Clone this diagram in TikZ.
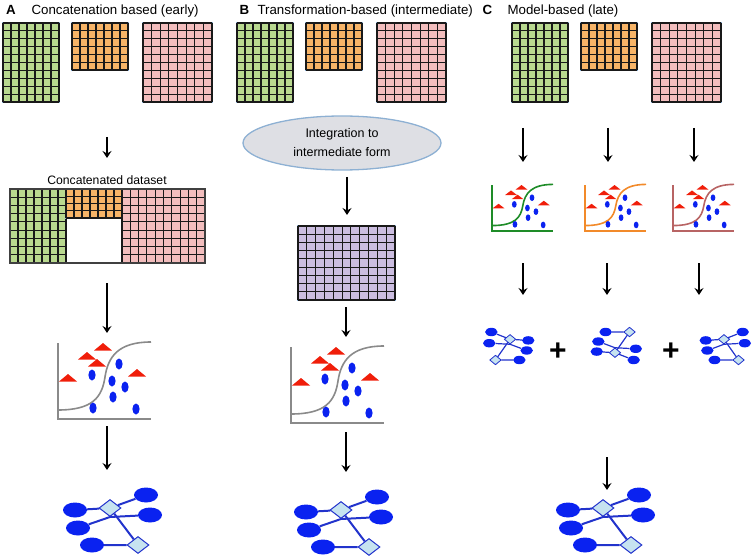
\documentclass[tikz,border=0pt]{standalone}
\usepackage{fontspec}
\setmainfont{Liberation Sans}
\usepackage{tikz}
\usetikzlibrary{shapes.geometric,arrows.meta}

\definecolor{gridgreen}{HTML}{B9D98F}
\definecolor{gridorange}{HTML}{F7B467}
\definecolor{gridpink}{HTML}{F2BDBD}
\definecolor{gridpurple}{HTML}{CBBDE0}
\definecolor{framelight}{HTML}{8FB4DC}
\definecolor{netblue}{HTML}{0A22F0}
\definecolor{edgeblue}{HTML}{2233CC}
\definecolor{hubfill}{HTML}{C6E3F0}
\definecolor{dotred}{HTML}{F01E0A}
\definecolor{curvegray}{HTML}{8A8A8A}
\definecolor{curvegreen}{HTML}{1E8C28}
\definecolor{curveorange}{HTML}{F28A2A}
\definecolor{curvebrown}{HTML}{B86464}
\definecolor{ovalfill}{HTML}{DEDFE4}
\definecolor{ovalline}{HTML}{8DB0D3}

% one block of data: left, top, right, bottom, columns, rows, fill
\newcommand{\datagrid}[7]{%
  \draw[gridframe, fill=#7] (#1,-#2) rectangle (#3,-#4);
  \foreach \k in {0,...,#5}
    \draw[gridline] ({#1+(#3-#1)*\k/#5},-#2) -- ({#1+(#3-#1)*\k/#5},-#4);
  \foreach \k in {0,...,#6}
    \draw[gridline] (#1,{-#2-(#4-#2)*\k/#6}) -- (#3,{-#2-(#4-#2)*\k/#6});
}

\tikzset{
  >={Stealth[length=7pt,width=9pt,inset=2.5pt]},
  flow/.style={->, line width=1.6pt},
  gridline/.style={line width=1.1pt, black!90},
  gridframe/.style={draw=framelight, line width=2.6pt},
  plotline/.style={draw=#1, line width=1.6pt},
  trired/.style={fill=dotred},
  dotblue/.style={fill=netblue},
  leaf/.style={ellipse, fill=netblue, minimum width=24pt, minimum height=15pt, inner sep=0pt},
  hub/.style={diamond, draw=edgeblue, line width=1pt, fill=hubfill, minimum width=22pt, minimum height=17pt, inner sep=0pt},
  netedge/.style={draw=edgeblue, line width=2pt},
  title/.style={font=\fontsize{13.3}{16}\selectfont, anchor=base west},
  oval/.style={ellipse, draw=ovalline, line width=1.3pt, fill=ovalfill, minimum width=198pt, minimum height=54pt, inner sep=0pt, align=center, font=\fontsize{12.5}{19}\selectfont},
  pics/scatter/.style={code={
    \draw[plotline=#1] (0,76) -- (0,0) -- (93,0);
    \draw[plotline=#1] (0,9) .. controls (35,9) and (44,22) .. (47,42) .. controls (50,62) and (60,77) .. (93,77);
    \foreach \tx/\ty in {45/72,29/63,39/56,10/41,79/46}
      \fill[trired] (\tx-9,\ty-3.5) -- (\tx+9,\ty-3.5) -- (\tx,\ty+4) -- cycle;
    \foreach \dx/\dy in {61/55,34/44,54/38,67/32,55/22,35/11,78/10}
      \fill[dotblue] (\dx,\dy) ellipse (3.6 and 5.5);
  }},
  pics/net/.style={code={
    \node[hub] (-d1) at (-2,12) {};
    \node[hub] (-d2) at (26,-25) {};
    \node[leaf] (-e1) at (-37,10) {};
    \node[leaf] (-e2) at (34,25) {};
    \node[leaf] (-e3) at (38,5) {};
    \node[leaf] (-e4) at (-34,-8) {};
    \node[leaf] (-e5) at (-20,-25) {};
    \draw[netedge] (-e1) -- (-d1) -- (-e2);
    \draw[netedge] (-e4) -- (-d1.south) -- (-e3);
    \draw[netedge] (-d1) -- (-d2) -- (-e5);
  }},
  smallnet/.style={transform shape, netedge/.append style={line width=1.2pt}, hub/.append style={line width=0.8pt}},
}

\begin{document}
\begin{tikzpicture}[x=1pt,y=1pt]
  \useasboundingbox (0,0) rectangle (753,-559);

  % headings
  \node[title] (markA) at (2.5,-14.5) {\bfseries A};
  \node[title] (headA) at (28,-14.5) {Concatenation based (early)};
  \node[title] (markB) at (236,-14.5) {\bfseries B};
  \node[title] (headB) at (254,-14.5) {Transformation-based (intermediate)};
  \node[title] (markC) at (479,-14.5) {\bfseries C};
  \node[title] (headC) at (504,-14.5) {Model-based (late)};

  % the three input blocks in each column
  \foreach \s in {0,234,509}{
    \begin{scope}[xshift=\s]
      \datagrid{3}{23}{59}{102}{7}{10}{gridgreen}
      \datagrid{72}{23}{128}{70}{7}{6}{gridorange}
      \datagrid{143}{23}{212}{102}{8}{10}{gridpink}
    \end{scope}
  }

  % A: concatenated dataset
  \node[font=\fontsize{12.2}{14}\selectfont, anchor=base] (concat) at (107,-184.5) {Concatenated dataset};
  \datagrid{10}{189}{66}{263}{7}{9}{gridgreen}
  \datagrid{66}{189}{122}{218}{7}{4}{gridorange}
  \datagrid{122}{189}{205}{263}{10}{9}{gridpink}
  \draw[line width=1.4pt, black!75] (10,-189) rectangle (205,-263);

  % B: intermediate form
  \node[oval] (integ) at (342,-143) {Integration to\\intermediate form};
  \datagrid{298}{226}{395}{300}{11}{9}{gridpurple}

  % classifiers
  \pic (plotA) at (58,-419) {scatter=curvegray};
  \pic (plotB) at (291,-423) {scatter=curvegray};
  \pic[xscale=0.656, yscale=0.605] (plotC1) at (492,-231) {scatter=curvegreen};
  \pic[xscale=0.656, yscale=0.605] (plotC2) at (585,-231) {scatter=curveorange};
  \pic[xscale=0.656, yscale=0.605] (plotC3) at (673,-231) {scatter=curvebrown};

  % networks
  \pic (netA) at (112,-520) {net};
  \pic (netB) at (343,-522) {net};
  \pic (netC) at (605,-520) {net};
  \pic[xscale=-0.52, yscale=0.56, smallnet] (netC1) at (509,-346) {net};
  \pic[xscale=0.52, yscale=-0.56, smallnet] (netC2) at (616,-346) {net};
  \pic[xscale=0.52, yscale=0.56, smallnet] (netC3) at (725,-346) {net};
  \node[font=\bfseries\fontsize{30}{30}\selectfont] (plus1) at (558,-352) {+};
  \node[font=\bfseries\fontsize{30}{30}\selectfont] (plus2) at (671,-352) {+};

  % arrows
  \foreach \n/\x/\ya/\yb in {a1/107/137/158, a2/107/283/333, a3/107/426/470,
      b1/347/177/215, b2/346/307/337, b3/346/432/472,
      c1/523/128/162, c2/608/128/162, c3/694/128/162,
      c4/523/263/295, c5/607/263/295, c6/699/263/295, c7/607/457/490}{
    \coordinate (\n top) at (\x,-\ya);
    \coordinate (\n end) at (\x,-\yb);
    \draw[flow] (\n top) -- (\n end);
  }
\end{tikzpicture}
\end{document}
